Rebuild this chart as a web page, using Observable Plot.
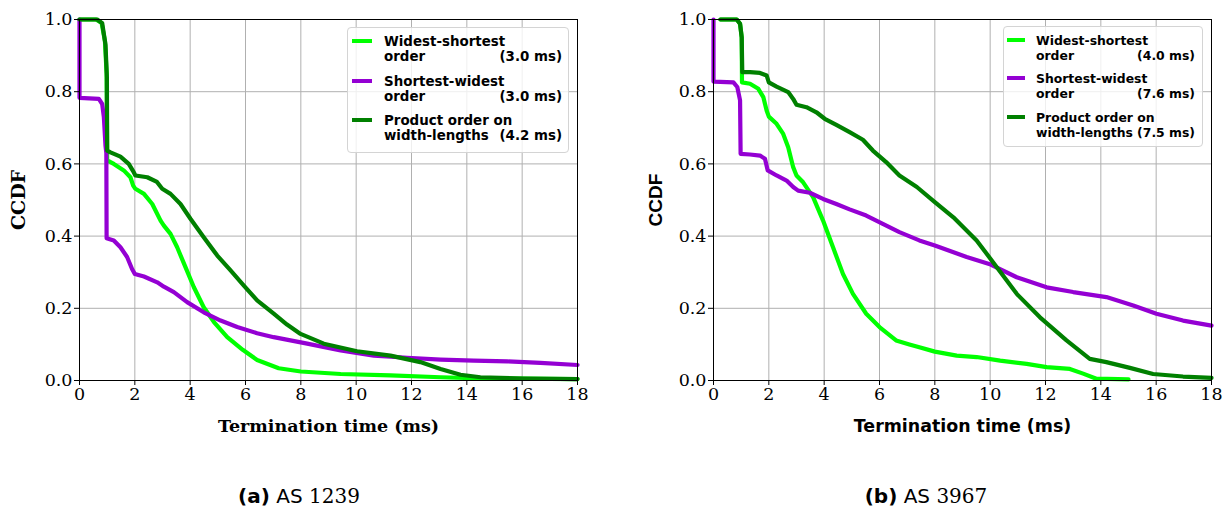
<!DOCTYPE html>
<html>
<head>
<meta charset="utf-8">
<script src="https://cdn.jsdelivr.net/npm/d3@7"></script>
<script src="https://cdn.jsdelivr.net/npm/@observablehq/plot@0.6"></script>
<style>
  body { margin: 0; background: #fff; }
  #root { position: relative; width: 1223px; height: 508px; overflow: hidden; background: #fff; }
  .panel { position: absolute; top: 0; }
  .legend { position: absolute; box-sizing: border-box; border: 1px solid #d4d4d4; border-radius: 4px;
            background: rgba(255,255,255,0.8); font-family: "DejaVu Sans", sans-serif; font-weight: bold; color: #000; }
  .entry { position: absolute; }
  .handle { position: absolute; height: 4px; }
  .txt div { white-space: nowrap; display: flex; justify-content: space-between; }
  .txt span.t { margin-left: 4px; }
  .caption { position: absolute; top: 484px; font-family: "DejaVu Sans", sans-serif; font-size: 20px; color: #000; white-space: nowrap; transform: translateX(-50%); }
  .caption .num { font-family: "DejaVu Serif", serif; font-size: 20px; }
</style>
</head>
<body>
<div id="root"></div>
<script>
// ---------- data ----------
const msTicks = [0, 2, 4, 6, 8, 10, 12, 14, 16, 18];
const ccdfTicks = [0, 0.2, 0.4, 0.6, 0.8, 1.0];
const seriesNames = ["Widest-shortest order", "Shortest-widest order", "Product order on width-lengths"];
const seriesColors = ["#00ff00", "#9400d3", "#008000"];
const legendLines = [["Widest-shortest", "order"], ["Shortest-widest", "order"], ["Product order on", "width-lengths"]];
const legendTimesA = ["(3.0 ms)", "(3.0 ms)", "(4.2 ms)"];
const legendTimesB = ["(4.0 ms)", "(7.6 ms)", "(7.5 ms)"];
const captionA = ["(a)", "AS", "1239"];
const captionB = ["(b)", "AS", "3967"];

// AS 1239
const as1239WidestShortest = [[0,1.0],[0.6,1.0],[0.8,0.99],[0.92,0.94],[0.98,0.85],[1.0,0.61],[1.24,0.60],[1.6,0.582],[1.84,0.563],[1.94,0.54],[2.02,0.531],[2.33,0.517],[2.63,0.489],[2.93,0.443],[3.05,0.429],[3.29,0.406],[3.53,0.369],[3.83,0.314],[4.13,0.259],[4.49,0.203],[4.86,0.162],[5.34,0.12],[5.9,0.085],[6.42,0.057],[7.2,0.034],[8.0,0.025],[9.44,0.018],[11.24,0.014],[13.05,0.009],[14.5,0.006],[16,0.005],[18,0.004]];
const as1239ShortestWidest = [[0,1.0],[0,0.783],[0.7,0.78],[0.82,0.766],[0.88,0.73],[0.94,0.65],[0.97,0.63],[0.98,0.394],[1.24,0.388],[1.48,0.369],[1.72,0.342],[1.9,0.309],[2.0,0.295],[2.33,0.288],[2.81,0.272],[3.05,0.26],[3.41,0.245],[3.89,0.217],[4.49,0.189],[5.1,0.166],[5.7,0.148],[6.42,0.131],[7.02,0.12],[8.23,0.102],[9.44,0.083],[10.64,0.069],[11.85,0.063],[13.05,0.058],[14.25,0.055],[15.46,0.053],[16.66,0.049],[18,0.043]];
const as1239Product = [[0,1.0],[0.64,1.0],[0.82,0.99],[0.94,0.93],[0.99,0.84],[1.0,0.637],[1.12,0.632],[1.48,0.62],[1.78,0.60],[1.96,0.577],[2.02,0.568],[2.45,0.563],[2.8,0.55],[2.99,0.531],[3.29,0.517],[3.65,0.489],[4.01,0.448],[4.49,0.397],[4.98,0.346],[5.46,0.305],[5.94,0.263],[6.42,0.222],[7.02,0.185],[7.5,0.155],[7.99,0.129],[8.83,0.102],[10.03,0.081],[11.24,0.069],[12.32,0.051],[13.05,0.032],[13.77,0.016],[14.49,0.009],[16.05,0.0055],[18,0.004]];

// AS 3967
const as3967WidestShortest = [[0.25,1.0],[0.84,1.0],[0.96,0.988],[1.02,0.95],[1.03,0.826],[1.32,0.822],[1.62,0.808],[1.8,0.785],[1.92,0.748],[2.0,0.731],[2.28,0.711],[2.52,0.683],[2.7,0.646],[2.88,0.591],[3.0,0.568],[3.24,0.549],[3.6,0.508],[3.96,0.443],[4.32,0.369],[4.68,0.295],[5.04,0.24],[5.52,0.185],[6.0,0.148],[6.6,0.111],[7.08,0.100],[7.44,0.092],[8.0,0.08],[8.79,0.069],[9.51,0.065],[10.36,0.055],[11.32,0.046],[12.04,0.037],[12.88,0.032],[13.36,0.019],[13.84,0.005],[15.0,0.003]];
const as3967ShortestWidest = [[0,1.0],[0,0.828],[0.72,0.826],[0.86,0.813],[0.96,0.776],[0.98,0.628],[1.32,0.626],[1.68,0.623],[1.86,0.614],[1.96,0.582],[2.28,0.568],[2.64,0.554],[2.88,0.536],[3.06,0.526],[3.48,0.52],[3.96,0.503],[4.44,0.489],[4.92,0.474],[5.52,0.457],[6.12,0.434],[6.72,0.411],[7.44,0.388],[8.0,0.374],[9.15,0.342],[10.02,0.321],[10.96,0.286],[12.04,0.258],[13.0,0.245],[14.2,0.231],[15.17,0.208],[16.01,0.185],[16.97,0.166],[18.0,0.152]];
const as3967Product = [[0.25,1.0],[0.84,1.0],[0.96,0.988],[1.02,0.95],[1.04,0.854],[1.32,0.854],[1.68,0.852],[1.92,0.845],[2.0,0.826],[2.28,0.814],[2.7,0.799],[2.88,0.78],[3.0,0.764],[3.36,0.757],[3.72,0.743],[4.02,0.725],[4.44,0.708],[4.92,0.688],[5.4,0.667],[5.76,0.637],[6.24,0.605],[6.72,0.568],[7.35,0.536],[8.0,0.494],[8.67,0.452],[9.51,0.388],[10.24,0.314],[10.96,0.24],[11.8,0.175],[12.76,0.111],[13.6,0.06],[14.2,0.051],[15.05,0.035],[15.89,0.018],[16.97,0.011],[18.0,0.0075]];

// ---------- drawing ----------
const root = document.getElementById("root");
const fmtY = d3.format(".1f");
const tickFont = '"DejaVu Serif", serif';

function rowsOf(list) {
  return list.flatMap((pairs, i) => pairs.map(([x, y]) => ({x, y, s: seriesNames[i]})));
}

function makePanel(list, o) {
  const rows = rowsOf(list);
  const svg = Plot.plot({
    width: 611, height: 445,
    marginLeft: o.ml, marginRight: o.mr, marginTop: 19, marginBottom: 65,
    style: {fontFamily: tickFont, fontSize: "17.5px", color: "black", background: "transparent", overflow: "visible"},
    x: {domain: [0, 18], label: null},
    y: {domain: [0, 1], label: null},
    color: {domain: seriesNames, range: seriesColors},
    marks: [
      Plot.gridX(msTicks, {stroke: "#b0b0b0", strokeOpacity: 1, strokeWidth: 1}),
      Plot.gridY(ccdfTicks, {stroke: "#b0b0b0", strokeOpacity: 1, strokeWidth: 1}),
      Plot.line(rows, {x: "x", y: "y", z: "s", stroke: "s", strokeWidth: 4.2, strokeLinejoin: "round", curve: "linear"}),
      Plot.frame({stroke: "black", strokeWidth: 1}),
      Plot.axisX(msTicks, {tickSize: 5, tickPadding: 2, tickFormat: d => String(d), label: null, stroke: "black",
        fontFamily: tickFont, fontSize: 17.5}),
      Plot.axisY(ccdfTicks, {tickSize: 5, tickPadding: 2, tickFormat: fmtY, label: null, stroke: "black",
        fontFamily: tickFont, fontSize: 17.5}),
      Plot.text([o.xlabel], {text: d => d, frameAnchor: "bottom", dy: 46, lineAnchor: "middle", textAnchor: "middle",
        fontFamily: o.labelFont, fontSize: o.xlabelSize, fontWeight: "bold", fill: "black"}),
      Plot.text([o.ylabel], {text: d => d, frameAnchor: "left", dx: o.ydx, rotate: -90, lineAnchor: "middle", textAnchor: "middle",
        fontFamily: o.ylabelFont, fontSize: o.ylabelSize, fontWeight: "bold", fill: "black"})
    ]
  });
  const wrap = document.createElement("div");
  wrap.className = "panel";
  wrap.style.left = o.left + "px";
  wrap.appendChild(svg);
  root.appendChild(wrap);
}

function makeLegend(times, L) {
  const box = document.createElement("div");
  box.className = "legend";
  Object.assign(box.style, {left: L.left + "px", top: L.top + "px", width: L.w + "px", height: L.h + "px", fontSize: L.fs + "px", lineHeight: L.lh + "px"});
  seriesNames.forEach((name, i) => {
    const e = document.createElement("div");
    e.className = "entry";
    Object.assign(e.style, {left: "0px", right: "0px", top: (L.first + i * L.step) + "px", height: (2 * L.lh) + "px"});
    const h = document.createElement("div");
    h.className = "handle";
    Object.assign(h.style, {left: L.hl + "px", width: L.hw + "px", top: L.ht + "px", background: seriesColors[i]});
    const t = document.createElement("div");
    t.className = "txt";
    Object.assign(t.style, {position: "absolute", left: L.tl + "px", right: L.tr + "px", top: "0px"});
    const l1 = document.createElement("div");
    l1.textContent = legendLines[i][0];
    const l2 = document.createElement("div");
    const a = document.createElement("span"); a.textContent = legendLines[i][1];
    const b = document.createElement("span"); b.className = "t"; b.textContent = times[i];
    l2.append(a, b);
    t.append(l1, l2);
    e.append(h, t);
    box.appendChild(e);
  });
  root.appendChild(box);
}

function makeCaption(parts, cx) {
  const c = document.createElement("div");
  c.className = "caption";
  c.style.left = cx + "px";
  const b = document.createElement("b"); b.textContent = parts[0];
  const s = document.createElement("span"); s.textContent = " " + parts[1] + " ";
  const n = document.createElement("span"); n.className = "num"; n.textContent = parts[2];
  c.append(b, s, n);
  root.appendChild(c);
}

makePanel([as1239WidestShortest, as1239ShortestWidest, as1239Product],
  {left: 0, ml: 79, mr: 34, xlabel: "Termination time (ms)", ylabel: "CCDF", ydx: -61,
   labelFont: '"DejaVu Serif", serif', xlabelSize: 17.5, ylabelFont: '"DejaVu Serif", serif', ylabelSize: 19});
makePanel([as3967WidestShortest, as3967ShortestWidest, as3967Product],
  {left: 612, ml: 101, mr: 12, xlabel: "Termination time (ms)", ylabel: "CCDF", ydx: -58,
   labelFont: '"DejaVu Sans", sans-serif', xlabelSize: 17.4, ylabelFont: '"Liberation Sans", Arial, sans-serif', ylabelSize: 19});

makeLegend(legendTimesA, {left: 347, top: 27, w: 222, h: 126, fs: 13.4, lh: 15, first: 6, step: 39.5, hl: 4, hw: 20, ht: 5, tl: 36, tr: 6});
makeLegend(legendTimesB, {left: 1003, top: 26, w: 200, h: 121, fs: 12.4, lh: 15, first: 6, step: 38.3, hl: 3, hw: 18, ht: 5, tl: 32, tr: 7});

makeCaption(captionA, 299);
makeCaption(captionB, 926);
</script>
</body>
</html>
